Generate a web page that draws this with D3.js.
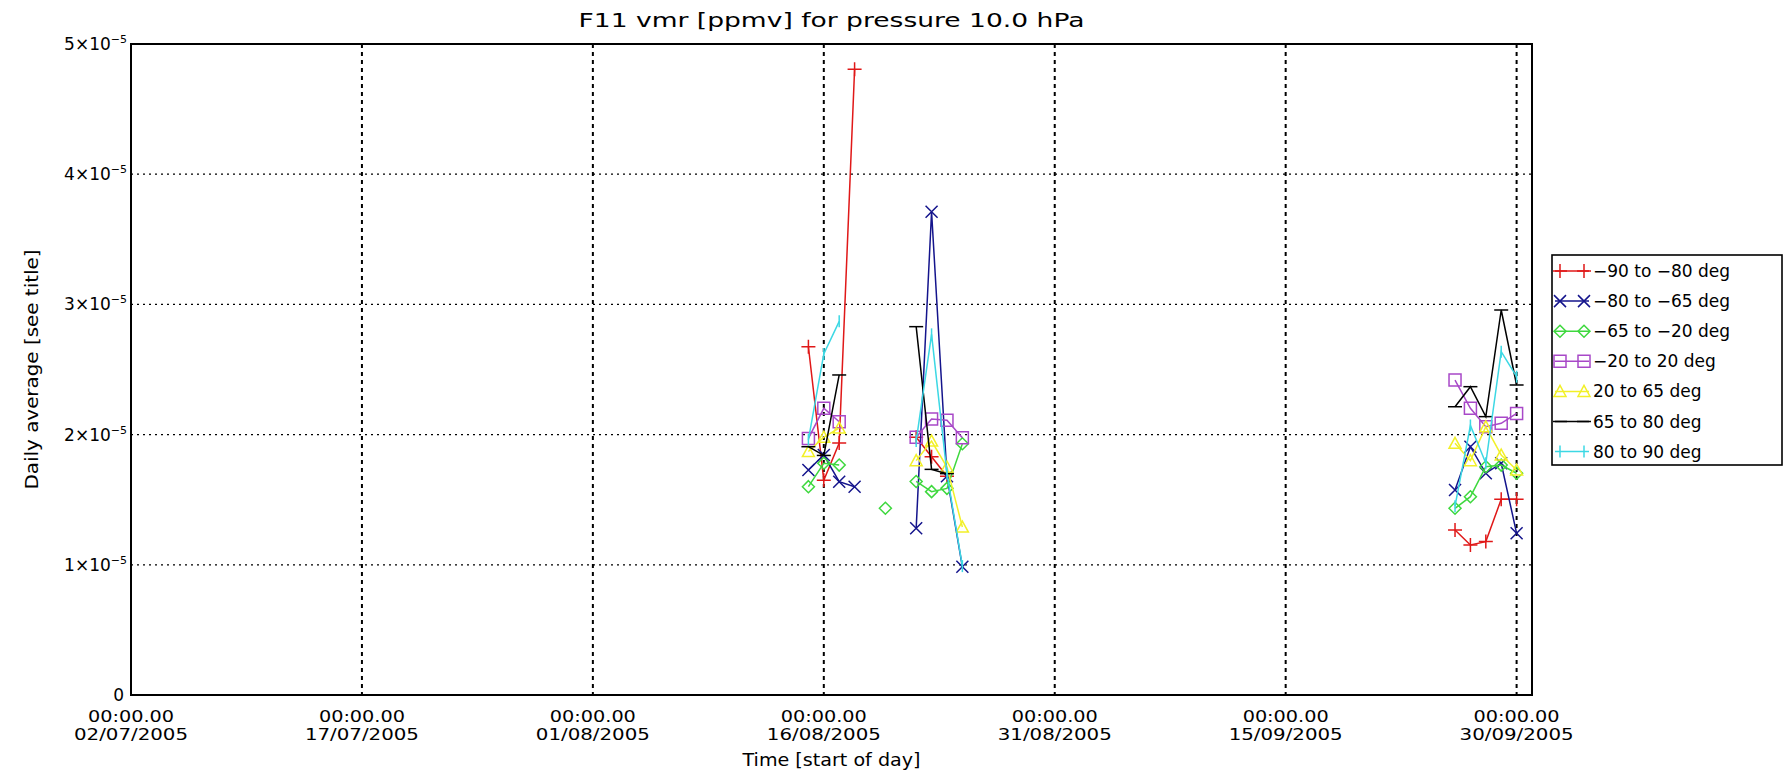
<!DOCTYPE html>
<html>
<head>
<meta charset="utf-8">
<script src="https://cdn.jsdelivr.net/npm/d3@7"></script>
<style>
  html, body { margin: 0; padding: 0; background: #fff; }
  svg { display: block; }
  text { font-family: "DejaVu Sans", "Liberation Sans", sans-serif; fill: #000; }
</style>
</head>
<body>
<svg id="chart" width="1785" height="782"></svg>
<script>
// ---------------- data ----------------
const titleText = "F11 vmr [ppmv] for pressure 10.0 hPa";
const xTitle = "Time [start of day]";
const yTitle = "Daily average [see title]";

const xTickDates = ["2005-07-02", "2005-07-17", "2005-08-01", "2005-08-16", "2005-08-31", "2005-09-15", "2005-09-30"];
const xTickTimes = ["00:00.00", "00:00.00", "00:00.00", "00:00.00", "00:00.00", "00:00.00", "00:00.00"];
const xTickLabels = ["02/07/2005", "17/07/2005", "01/08/2005", "16/08/2005", "31/08/2005", "15/09/2005", "30/09/2005"];
const yTickValues = [0, 1e-5, 2e-5, 3e-5, 4e-5, 5e-5];
const yTickMantissa = ["0", "1", "2", "3", "4", "5"];

const dates = ["2005-08-15", "2005-08-16", "2005-08-17", "2005-08-18", "2005-08-19", "2005-08-20",
               "2005-08-21", "2005-08-22", "2005-08-23", "2005-08-24", "2005-08-25",
               "2005-09-26", "2005-09-27", "2005-09-28", "2005-09-29", "2005-09-30"];

const seriesNames = ["\u221290 to \u221280 deg", "\u221280 to \u221265 deg", "\u221265 to \u221220 deg",
                     "\u221220 to 20 deg", "20 to 65 deg", "65 to 80 deg", "80 to 90 deg"];

const s90to80  = [2.675e-5, 1.65e-5, 1.935e-5, 4.806e-5, null, null, null, 1.98e-5, 1.83e-5, 1.68e-5, null,
                  1.267e-5, 1.152e-5, 1.178e-5, 1.503e-5, 1.503e-5];
const s80to65  = [1.728e-5, 1.843e-5, 1.638e-5, 1.60e-5, null, null, null, 1.28e-5, 3.712e-5, 1.68e-5, 0.985e-5,
                  1.575e-5, 1.907e-5, 1.703e-5, 1.78e-5, 1.242e-5];
const s65to20  = [1.60e-5, 1.78e-5, 1.766e-5, null, null, 1.434e-5, null, 1.64e-5, 1.562e-5, 1.587e-5, 1.93e-5,
                  1.434e-5, 1.523e-5, 1.753e-5, 1.766e-5, 1.703e-5];
const s20to20  = [1.971e-5, 2.202e-5, 2.099e-5, null, null, null, null, 1.98e-5, 2.12e-5, 2.11e-5, 1.975e-5,
                  2.419e-5, 2.202e-5, 2.061e-5, 2.087e-5, 2.163e-5];
const s20to65  = [1.87e-5, 1.98e-5, 2.05e-5, null, null, null, null, 1.80e-5, 1.95e-5, 1.75e-5, 1.29e-5,
                  1.933e-5, 1.80e-5, 2.06e-5, 1.843e-5, 1.728e-5];
const s65to80  = [1.907e-5, 1.84e-5, 2.458e-5, null, null, null, null, 2.829e-5, 1.733e-5, 1.70e-5, null,
                  2.214e-5, 2.368e-5, 2.138e-5, 2.957e-5, 2.381e-5];
const s80to90  = [1.96e-5, 2.62e-5, 2.87e-5, null, null, null, null, 1.95e-5, 2.77e-5, 1.70e-5, 0.99e-5,
                  1.45e-5, 2.07e-5, 1.78e-5, 2.637e-5, 2.445e-5];

const seriesValues = [s90to80, s80to65, s65to20, s20to20, s20to65, s65to80, s80to90];
const seriesColors = ["#e01818", "#14148c", "#3ed83e", "#a848c8", "#f2f028", "#000000", "#3cd8e4"];
const seriesMarkers = ["plus", "cross", "diamond", "square", "triangle", "hbar", "vbar"];

// ---------------- layout ----------------
const M = { left: 131, right: 1532, top: 44, bottom: 695 };
const parse = d3.utcParse("%Y-%m-%d");

const svg = d3.select("#chart");
const x = d3.scaleUtc().domain([parse("2005-07-02"), parse("2005-10-01")]).range([M.left, M.right]);
const y = d3.scaleLinear().domain([0, 5e-5]).range([M.bottom, M.top]);

// grid lines (dotted)
const grid = svg.append("g");
grid.selectAll("line.hg").data(yTickValues.filter(v => v > 0 && v < 5e-5)).join("line")
  .attr("x1", M.left).attr("x2", M.right)
  .attr("y1", d => y(d)).attr("y2", d => y(d))
  .attr("stroke", "#000").attr("stroke-width", 1.3).attr("stroke-dasharray", "2,4");
grid.selectAll("line.vg").data(xTickDates.slice(1)).join("line")
  .attr("x1", d => x(parse(d))).attr("x2", d => x(parse(d)))
  .attr("y1", M.top).attr("y2", M.bottom)
  .attr("stroke", "#000").attr("stroke-width", 2).attr("stroke-dasharray", "4,4");

// y tick labels
const yLab = svg.append("g");
yTickValues.forEach((v, i) => {
  const t = yLab.append("text")
    .attr("x", v === 0 ? 124 : 127).attr("y", y(v) + 6)
    .attr("text-anchor", "end").attr("font-size", 17);
  if (v === 0) {
    t.text("0");
  } else {
    t.append("tspan").text(yTickMantissa[i] + "\u00d710");
    t.append("tspan").attr("dy", -7).attr("font-size", 11).text("\u22125");
  }
});

// x tick labels
const xLab = svg.append("g");
xTickDates.forEach((d, i) => {
  const cx = x(parse(d));
  xLab.append("text").attr("x", cx).attr("y", 722).attr("text-anchor", "middle")
    .attr("font-size", 16).attr("textLength", 86).attr("lengthAdjust", "spacingAndGlyphs")
    .text(xTickTimes[i]);
  xLab.append("text").attr("x", cx).attr("y", 740).attr("text-anchor", "middle")
    .attr("font-size", 16).attr("textLength", 114).attr("lengthAdjust", "spacingAndGlyphs")
    .text(xTickLabels[i]);
});

// axis titles
svg.append("text").attr("x", (M.left + M.right) / 2).attr("y", 766).attr("text-anchor", "middle")
  .attr("font-size", 17).attr("textLength", 178).attr("lengthAdjust", "spacingAndGlyphs").text(xTitle);
svg.append("text").attr("transform", `translate(38,${(M.top + M.bottom) / 2}) rotate(-90)`)
  .attr("text-anchor", "middle").attr("font-size", 17)
  .attr("textLength", 240).attr("lengthAdjust", "spacingAndGlyphs").text(yTitle);
svg.append("text").attr("x", (M.left + M.right) / 2).attr("y", 27).attr("text-anchor", "middle")
  .attr("font-size", 20).attr("textLength", 506).attr("lengthAdjust", "spacingAndGlyphs").text(titleText);

// marker shapes
const markerPath = {
  plus: "M-7,0H7M0,-7V7",
  cross: "M-6,-6L6,6M-6,6L6,-6",
  diamond: "M0,-6L6,0L0,6L-6,0Z",
  square: "M-6,-6H6V6H-6Z",
  triangle: "M0,-6L6,5H-6Z",
  hbar: "M-7,0H7",
  vbar: "M0,-6V6"
};

// series
const plot = svg.append("g");
seriesValues.forEach((vals, si) => {
  const pts = dates.map((d, i) => ({ t: parse(d), v: vals[i] }));
  const segs = [];
  let cur = [];
  pts.forEach((p, i) => {
    const prev = i > 0 ? pts[i - 1] : null;
    const consecutive = prev && (p.t - prev.t) <= 1.5 * 864e5;
    if (p.v == null || !consecutive) { if (cur.length) segs.push(cur); cur = []; }
    if (p.v != null) cur.push(p);
  });
  if (cur.length) segs.push(cur);
  const line = d3.line().x(p => x(p.t)).y(p => y(p.v));
  const g = plot.append("g");
  g.selectAll("path.seg").data(segs.filter(s => s.length > 1)).join("path")
    .attr("d", line).attr("fill", "none")
    .attr("stroke", seriesColors[si]).attr("stroke-width", 1.5);
  g.selectAll("path.mk").data(pts.filter(p => p.v != null)).join("path")
    .attr("transform", p => `translate(${x(p.t)},${y(p.v)})`)
    .attr("d", markerPath[seriesMarkers[si]])
    .attr("fill", "none").attr("stroke", seriesColors[si]).attr("stroke-width", 1.5);
});

// frame
svg.append("rect").attr("x", M.left).attr("y", M.top).attr("width", M.right - M.left).attr("height", M.bottom - M.top)
  .attr("fill", "none").attr("stroke", "#000").attr("stroke-width", 2);

// legend
const lg = svg.append("g");
lg.append("rect").attr("x", 1552).attr("y", 255).attr("width", 230).attr("height", 210)
  .attr("fill", "#fff").attr("stroke", "#000").attr("stroke-width", 1.6);
seriesNames.forEach((name, i) => {
  const ly = 271 + i * 30.1;
  lg.append("line").attr("x1", 1555).attr("x2", 1589).attr("y1", ly).attr("y2", ly)
    .attr("stroke", seriesColors[i]).attr("stroke-width", 1.5);
  [1560, 1584].forEach(mx => {
    lg.append("path").attr("transform", `translate(${mx},${ly})`).attr("d", markerPath[seriesMarkers[i]])
      .attr("fill", "none").attr("stroke", seriesColors[i]).attr("stroke-width", 1.5);
  });
  lg.append("text").attr("x", 1593).attr("y", ly + 6).attr("font-size", 17).text(name);
});
</script>
</body>
</html>
